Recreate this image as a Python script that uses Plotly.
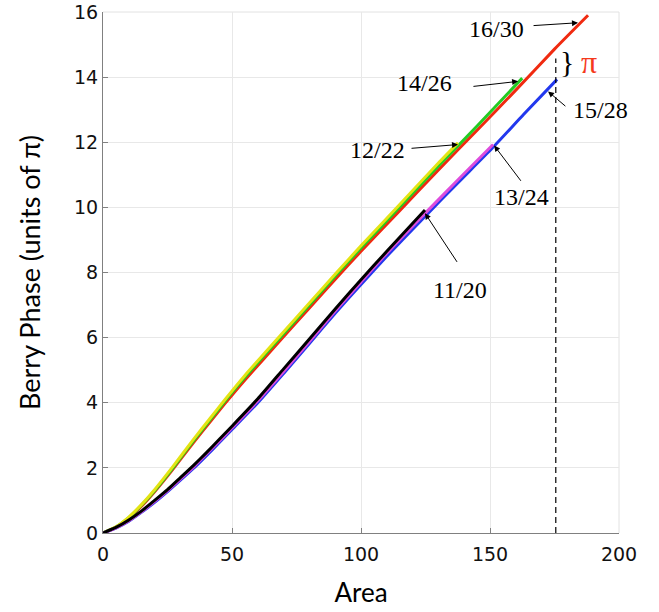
import plotly.graph_objects as go

# ---- data (area, Berry phase in units of pi) ----
red_area = [0, 5, 10, 15, 20, 27, 35, 42, 47, 55, 69, 80, 91, 100, 115, 130, 145, 160, 175, 188]
red_val = [0, 0.17, 0.45, 0.83, 1.27, 1.95, 2.77, 3.46, 3.95, 4.7, 5.94, 6.91, 7.88, 8.65, 9.9, 11.15, 12.37, 13.6, 14.86, 15.9]

green_area = [0, 5, 10, 15, 20, 27, 35, 42, 47, 55, 69, 80, 91, 100, 115, 130, 145, 162.5]
green_val = [0, 0.18, 0.47, 0.86, 1.3, 1.99, 2.82, 3.52, 4.02, 4.78, 6.03, 7.0, 7.98, 8.75, 10.01, 11.27, 12.5, 13.97]

yellow_area = [0, 5, 10, 15, 20, 27, 35, 42, 47, 55, 69, 80, 91, 100, 115, 130, 137.6]
yellow_val = [0, 0.19, 0.49, 0.88, 1.33, 2.03, 2.87, 3.57, 4.07, 4.84, 6.09, 7.06, 8.04, 8.82, 10.09, 11.36, 11.98]

blue_area = [0, 5, 10, 15, 20, 25, 30, 35, 40, 45, 50, 60, 70, 80, 90, 100, 110, 125, 138, 151, 163, 176]
blue_val = [0, 0.15, 0.36, 0.64, 0.94, 1.27, 1.62, 1.98, 2.37, 2.77, 3.18, 4.0, 4.9, 5.82, 6.75, 7.63, 8.5, 9.74, 10.79, 11.83, 12.85, 13.93]

magenta_area = [0, 5, 10, 15, 20, 25, 30, 35, 40, 45, 50, 60, 70, 80, 90, 100, 110, 125, 138, 151.2]
magenta_val = [0, 0.16, 0.38, 0.66, 0.97, 1.3, 1.66, 2.02, 2.42, 2.82, 3.23, 4.06, 4.96, 5.88, 6.82, 7.71, 8.59, 9.83, 10.88, 11.93]

black_area = [0, 5, 10, 15, 20, 25, 30, 35, 40, 45, 50, 60, 70, 80, 90, 100, 110, 124.8]
black_val = [0, 0.17, 0.4, 0.68, 1.0, 1.33, 1.7, 2.07, 2.46, 2.87, 3.28, 4.12, 5.04, 5.96, 6.88, 7.78, 8.65, 9.92]

x_ticks = [0, 50, 100, 150, 200]
y_ticks = [0, 2, 4, 6, 8, 10, 12, 14, 16]

# label text, text position (area, value), arrow tail, arrow head
labels = [
    ("16/30", 152.7, 15.49, 166.3, 15.58, 184.1, 15.67),
    ("14/26", 124.8, 13.83, 143.0, 13.71, 160.9, 13.87),
    ("12/22", 106.2, 11.75, 119.0, 11.81, 137.6, 11.93),
    ("15/28", 193.0, 12.98, 179.8, 13.07, 172.5, 13.56),
    ("13/24", 162.4, 10.31, 162.4, 10.77, 151.6, 11.90),
    ("11/20", 138.4, 7.45, 137.6, 8.28, 124.8, 9.82),
]

dash_x = 175.5
dash_top = 14.57

fig = go.Figure()

series = [
    (red_area, red_val, "#f02a10", "16/30"),
    (green_area, green_val, "#22cc22", "14/26"),
    (yellow_area, yellow_val, "#e4e414", "12/22"),
    (blue_area, blue_val, "#2238ee", "15/28"),
    (magenta_area, magenta_val, "#dd4ddd", "13/24"),
    (black_area, black_val, "#000000", "11/20"),
]
for xs, ys, col, name in series:
    fig.add_trace(go.Scatter(x=xs, y=ys, mode="lines", name=name,
                             line=dict(color=col, width=3, shape="spline", smoothing=0.5),
                             showlegend=False, hoverinfo="skip"))

# light top / right frame (like the grid)
fig.add_shape(type="line", xref="paper", yref="paper", x0=0, x1=1, y0=1, y1=1,
              line=dict(color="#e2e2e2", width=1), layer="below")
fig.add_shape(type="line", xref="paper", yref="paper", x0=1, x1=1, y0=0, y1=1,
              line=dict(color="#e2e2e2", width=1), layer="below")

# dashed vertical marker
fig.add_shape(type="line", x0=dash_x, x1=dash_x, y0=0, y1=dash_top, xref="x", yref="y",
              line=dict(color="black", width=1.2, dash="6px,4px"))

for txt, tx, ty, ax, ay, hx, hy in labels:
    fig.add_annotation(x=tx, y=ty, xref="x", yref="y", text=txt, showarrow=False,
                       font=dict(family="Liberation Serif", size=24, color="black"))
    fig.add_annotation(x=hx, y=hy, ax=ax, ay=ay, xref="x", yref="y", axref="x", ayref="y",
                       text="", showarrow=True, arrowhead=2, arrowsize=1.2, arrowwidth=1,
                       arrowcolor="black", standoff=0, startstandoff=0)

# brace and pi
fig.add_annotation(x=179.8, y=14.48, xref="x", yref="y", text="}", showarrow=False,
                   font=dict(family="Liberation Serif", size=30, color="black"))
fig.add_annotation(x=188.4, y=14.45, xref="x", yref="y", text="π", showarrow=False,
                   font=dict(family="Liberation Serif", size=32, color="#f5391c"))

fig.update_layout(
    width=659, height=612,
    margin=dict(l=103, r=40, t=12, b=79),
    paper_bgcolor="white", plot_bgcolor="white",
    xaxis=dict(range=[0, 200], tickvals=x_ticks, ticks="inside", ticklen=5, tickcolor="#808080",
               showline=True, linecolor="#808080", linewidth=1, showgrid=True, gridcolor="#e8e8e8",
               zeroline=False, automargin=False, ticklabelstandoff=4, ticklabeloverflow="allow",
               tickfont=dict(family="DejaVu Sans", size=19, color="#111"),
               title=dict(text="Area", font=dict(family="Lato", size=26, color="black"), standoff=20)),
    yaxis=dict(range=[0, 16], tickvals=y_ticks, ticks="inside", ticklen=5, tickcolor="#808080",
               showline=True, linecolor="#808080", linewidth=1, showgrid=True, gridcolor="#e8e8e8",
               zeroline=False, automargin=False, ticklabeloverflow="allow",
               tickfont=dict(family="DejaVu Sans", size=19, color="#111"),
               title=dict(text="Berry Phase (units of π)", font=dict(family="Lato", size=27, color="black"),
                          standoff=25)),
)

fig.write_html("out.html", config={"displayModeBar": False},
               post_script="document.body.style.margin='0';")
